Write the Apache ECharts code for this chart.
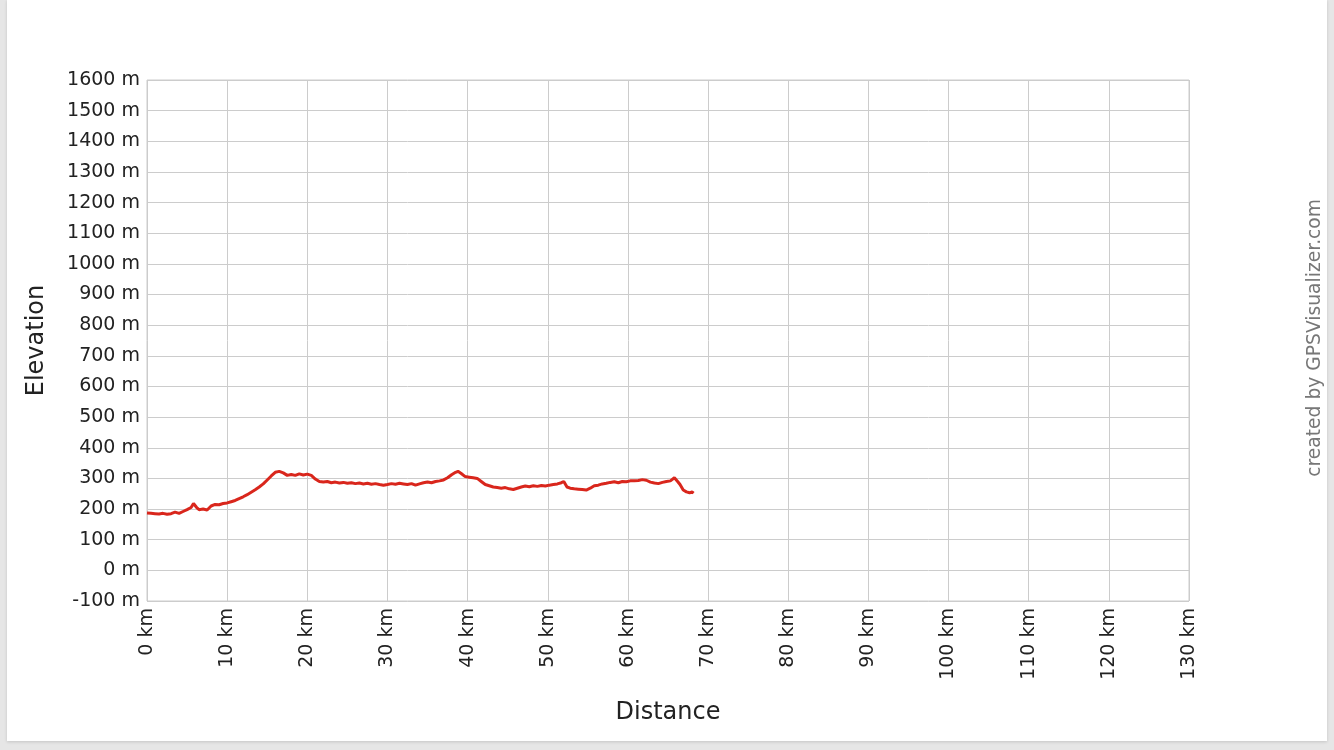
<!DOCTYPE html>
<html><head><meta charset="utf-8">
<script src="https://cdn.jsdelivr.net/npm/echarts@6/dist/echarts.min.js"></script>
<style>
html,body{margin:0;padding:0;background:#e6e6e6;width:1334px;height:750px;overflow:hidden;}
#c{position:absolute;left:7px;top:0;width:1320px;height:741px;background:#fff;box-shadow:0 1px 3px rgba(0,0,0,0.15);}
</style></head>
<body><div id="c"></div>
<script>
const distanceKm = [0,0.5,1,1.5,2,2.5,3,3.5,4,4.5,5,5.5,5.8,6.2,6.5,7,7.5,8,8.5,9,9.5,10,10.5,11,11.5,12,12.5,13,13.5,14,14.5,15,15.5,16,16.5,17,17.5,18,18.5,19,19.5,20,20.5,21,21.5,22,22.5,23,23.5,24,24.5,25,25.5,26,26.5,27,27.5,28,28.5,29,29.5,30,30.5,31,31.5,32,32.5,33,33.5,34,34.5,35,35.5,36,36.5,37,37.5,38,38.5,38.8,39.2,39.7,40.2,40.7,41.2,41.7,42.2,42.7,43.2,43.7,44.2,44.7,45.2,45.7,46.2,46.7,47.2,47.7,48.2,48.7,49.2,49.7,50.2,50.7,51.2,51.7,52,52.4,52.8,53.3,53.8,54.3,54.8,55.3,55.8,56.3,56.8,57.3,57.8,58.3,58.8,59.3,59.8,60.3,60.8,61.3,61.8,62.3,62.8,63.3,63.8,64.3,64.8,65.3,65.8,66.2,66.5,66.9,67.3,67.7,68,68.2];
const elevationM = [187,186,185,184,186,183,185,190,186,192,198,205,218,205,198,200,197,210,215,214,218,220,224,228,234,240,247,255,263,272,282,295,308,320,323,318,310,313,310,315,311,314,310,298,290,288,290,286,288,285,287,284,286,283,285,282,284,281,283,280,278,280,283,281,284,282,280,283,278,282,286,288,286,290,292,295,302,312,320,323,316,306,304,302,300,290,280,276,272,270,268,270,266,264,268,272,275,273,276,274,277,275,278,280,282,286,290,272,268,266,265,264,262,268,276,278,282,284,287,289,286,290,289,292,292,293,296,294,288,285,283,287,290,292,302,290,280,262,256,253,256,252];
const xTicks = {min:0, max:130, step:10, unit:'km'};
const yTicks = {min:-100, max:1600, step:100, unit:'m'};

const chart = echarts.init(document.getElementById('c'));
const font = '"DejaVu Sans", Verdana, sans-serif';
chart.setOption({
  animation:false,
  grid:{left:140, top:80, width:1042, height:521, show:true, borderColor:'#cccccc', borderWidth:1},
  xAxis:{type:'value', min:xTicks.min, max:xTicks.max, interval:xTicks.step,
    name:'Distance', nameLocation:'middle', nameGap:100,
    nameTextStyle:{fontFamily:font, fontSize:24, color:'#222'},
    axisLine:{show:false}, axisTick:{show:false},
    splitLine:{show:true, lineStyle:{color:'#cccccc', width:1}},
    axisLabel:{rotate:90, margin:7, fontFamily:font, fontSize:19, color:'#222', formatter:v=>v+' '+xTicks.unit}},
  yAxis:{type:'value', min:yTicks.min, max:yTicks.max, interval:yTicks.step,
    name:'Elevation', nameLocation:'middle', nameGap:98,
    nameTextStyle:{fontFamily:font, fontSize:24, color:'#222'},
    axisLine:{show:false}, axisTick:{show:false},
    splitLine:{show:true, lineStyle:{color:'#cccccc', width:1}},
    axisLabel:{margin:7, fontFamily:font, fontSize:19, color:'#222', formatter:v=>v+' '+yTicks.unit}},
  graphic:[{type:'text', left:1299, top:199, rotation:Math.PI/2,
    style:{text:'created by GPSVisualizer.com', font:'18.7px '+font, fill:'#777'} }],
  series:[{type:'line', showSymbol:false, data:distanceKm.map((d,i)=>[d,elevationM[i]]),
    lineStyle:{color:'#d9261c', width:3}, itemStyle:{color:'#d9261c'}}]
});
</script></body></html>
